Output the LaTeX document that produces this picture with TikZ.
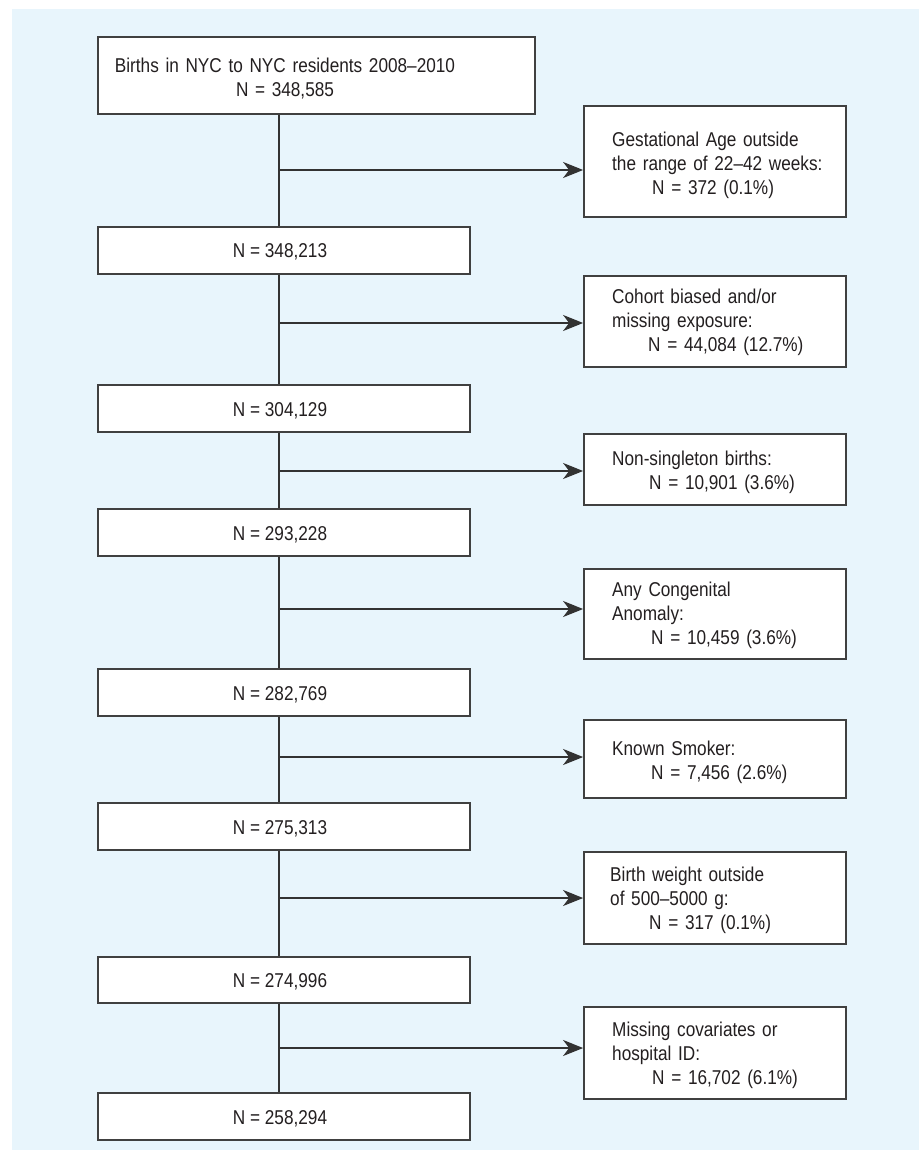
\documentclass[tikz,border=0pt]{standalone}
\usepackage{fontspec}
\setmainfont{Liberation Sans}[FakeStretch=0.86]
\usetikzlibrary{arrows.meta}
\definecolor{bgblue}{RGB}{232,245,252}
\definecolor{boxgray}{RGB}{64,64,64}
\definecolor{linegray}{RGB}{50,50,50}
\definecolor{textcol}{RGB}{35,31,32}
\tikzset{
  box/.style={draw=boxgray, line width=1.8pt, fill=white, inner sep=0pt, rectangle},
  mainbox/.style={box, minimum width=372pt},
  sidebox/.style={box, minimum width=262pt},
  conn/.style={draw=linegray, line width=1.8pt},
  arr/.style={conn, -{Stealth[length=20pt,width=16pt,inset=6pt]}},
  txt/.style={inner sep=0pt, text=textcol, font=\fontsize{20pt}{24pt}\selectfont},
  sidetxt/.style={txt, anchor=base west, text width=228pt, align=left},
  maintxt/.style={txt, anchor=base},
}
\begin{document}
\begin{tikzpicture}[x=1pt,y=-1pt]
\useasboundingbox (0,0) rectangle (923,1150);
\fill[bgblue] (12,9) rectangle (919,1150);

% main column
\node[box, minimum width=437pt, minimum height=77pt] (m1) at (316.5,75.5) {};
\node[mainbox, minimum height=47pt] (m2) at (284,250.5) {};
\node[mainbox, minimum height=47pt] (m3) at (284,408.5) {};
\node[mainbox, minimum height=47pt] (m4) at (284,532.5) {};
\node[mainbox, minimum height=47pt] (m5) at (284,692.5) {};
\node[mainbox, minimum height=47pt] (m6) at (284,826.5) {};
\node[mainbox, minimum height=46pt] (m7) at (284,980) {};
\node[mainbox, minimum height=47pt] (m8) at (284,1116.5) {};

\node[sidetxt, text width=400pt, align=center, anchor=base] (t1) at (285,73) {Births in NYC to NYC residents 2008--2010\\N = 348,585};
\node[maintxt] (t2) at (280,258) {N = 348,213};
\node[maintxt] (t3) at (280,416) {N = 304,129};
\node[maintxt] (t4) at (280,540) {N = 293,228};
\node[maintxt] (t5) at (280,700) {N = 282,769};
\node[maintxt] (t6) at (280,834) {N = 275,313};
\node[maintxt] (t7) at (280,987.5) {N = 274,996};
\node[maintxt] (t8) at (280,1124) {N = 258,294};

% side boxes
\node[sidebox, minimum height=111pt] (r1) at (715,161.5) {};
\node[sidebox, minimum height=91pt] (r2) at (715,321.5) {};
\node[sidebox, minimum height=71pt] (r3) at (715,469.5) {};
\node[sidebox, minimum height=90pt] (r4) at (715,614) {};
\node[sidebox, minimum height=78pt] (r5) at (715,759) {};
\node[sidebox, minimum height=92pt] (r6) at (715,898) {};
\node[sidebox, minimum height=92pt] (r7) at (715,1053) {};

\node[sidetxt] (s1) at (612,147) {Gestational Age outside\\the range of 22--42 weeks:\\\hspace*{40pt}N = 372 (0.1\%)};
\node[sidetxt] (s2) at (612,303) {Cohort biased and/or\\missing exposure:\\\hspace*{36pt}N = 44,084 (12.7\%)};
\node[sidetxt] (s3) at (612,465) {Non-singleton births:\\\hspace*{37pt}N = 10,901 (3.6\%)};
\node[sidetxt] (s4) at (612,596) {Any Congenital\\Anomaly:\\\hspace*{39pt}N = 10,459 (3.6\%)};
\node[sidetxt] (s5) at (612,755) {Known Smoker:\\\hspace*{39pt}N = 7,456 (2.6\%)};
\node[sidetxt] (s6) at (610,881) {Birth weight outside\\of 500--5000 g:\\\hspace*{39pt}N = 317 (0.1\%)};
\node[sidetxt] (s7) at (612,1036) {Missing covariates or\\hospital ID:\\\hspace*{40pt}N = 16,702 (6.1\%)};

% trunk
\coordinate (tx) at (279,0);
\foreach \a/\b in {m1/m2,m2/m3,m3/m4,m4/m5,m5/m6,m6/m7,m7/m8}
  \draw[conn] (\a.south -| tx) -- (\b.north -| tx);

% arrows
\coordinate (a1) at (279,170);
\coordinate (a2) at (279,323);
\coordinate (a3) at (279,471);
\coordinate (a4) at (279,609);
\coordinate (a5) at (279,757);
\coordinate (a6) at (279,898);
\coordinate (a7) at (279,1048);
\foreach \i in {1,...,7}
  \draw[arr] (a\i) -- (a\i -| r\i.west);
\end{tikzpicture}
\end{document}
